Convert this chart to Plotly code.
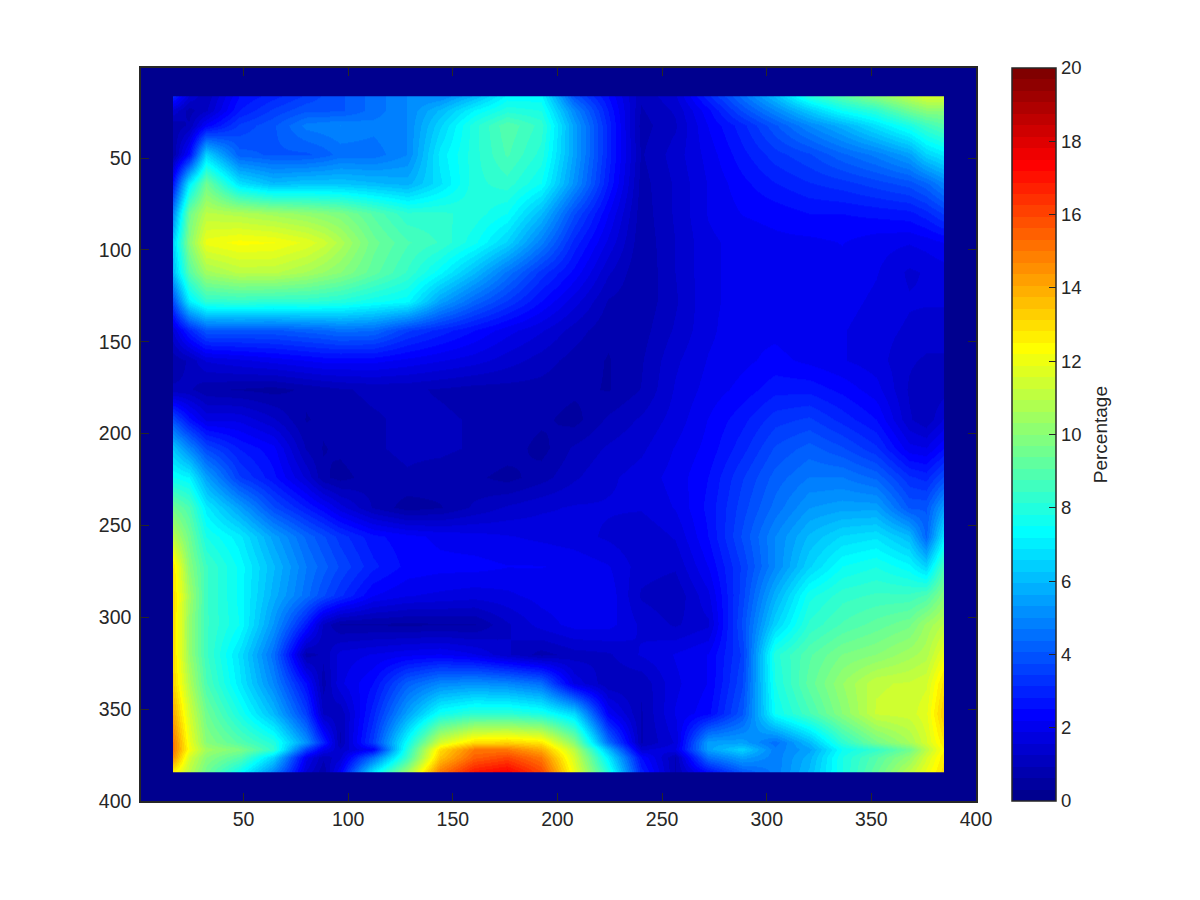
import numpy as np
import plotly.graph_objects as go

x_grid = [16.3,24,32,48,64,80,88,96,112,128,144,160,176,192,208,224,240,256,272,288,304,320,336,352,368,376,384.6]
y_grid = [16.4,24,32,48,64,80,96,112,128,144,160,176,192,208,224,240,256,272,288,304,320,336,352,368,372,376,384.4]

z_rows = [
[3,1.5,1,2.5,3,3.5,3.8,4,4.5,5,5,6,7.3,7.3,4,2.5,1,1.5,3,4.5,6,8,9,10,11,11.5,11.5],
[1.5,.8,1.2,2.8,3.5,4,4,4,4.5,5,6,7.2,8,7.8,5,2.8,.9,1.3,2.4,3.8,5,6.3,7.5,8.2,9.5,10,10],
[.7,1,2.3,3.5,4,4.8,4.9,5,4.8,5,6.5,8,9,8.3,5.5,3,.8,1.2,2.2,3,4,5,5.8,6.8,7.8,8.5,9],
[.7,2.5,6.5,4.2,4,4,4.2,4.5,4.5,5,7,8,8.8,8,5.5,3,.9,1.4,2,2.7,3.3,3.7,4.3,4.8,5.5,6.5,7],
[2.7,7,9.5,6.8,6,6.2,6.2,6.2,6,5.8,6.8,8,8.3,7.5,5.2,2.8,.8,1.3,1.9,2.4,2.8,3.1,3.3,3.6,3.9,4.3,5],
[5,9.5,11,10.8,10.5,10.2,10,9.8,9,8.2,8.2,8,7.5,6,3.8,2.2,.75,1.3,1.9,2.2,2.3,2.5,2.5,2.6,2.7,3,3.5],
[6.5,10,12,12.3,12.2,11.8,11.4,10.8,9.5,8.8,8.4,7.6,6.5,4.8,3,1.8,.7,1.25,1.8,2,2.1,2.1,2.2,2,1.9,2,2.2],
[6,9,10.5,11,11,10.6,10.3,10,9.2,8.4,7.3,6,4.6,3.3,2.4,1.3,.65,1.25,1.8,2,2,2,2.1,1.9,1.5,1.6,1.7],
[3.8,7,8.2,8.3,8.2,8.2,8.1,8,7.6,7.3,5.5,4.3,3.4,2.5,1.7,.9,.7,1.2,1.8,2,2,1.9,2,1.8,1.6,1.6,1.6],
[1.6,3,4,4,4,4.2,4.3,4.5,4.4,3.5,3,2.5,2,1.6,1.1,.7,.8,1.3,1.8,2.1,2.1,1.9,1.9,1.7,1.5,1.4,1.4],
[.7,1,1.6,1.8,2,2.2,2.3,2.3,2.3,2.1,1.9,1.7,1.4,1.1,.8,.6,.9,1.5,1.9,2.1,2.3,2.1,1.9,1.7,1.3,1.2,1.2],
[1,1,.7,.6,.5,.7,.8,.9,1,1,.9,.8,.8,.8,.7,.6,.95,1.6,2,2.3,2.7,2.7,2.4,2,1.2,1,1.1],
[3.8,2.6,1.8,1.8,1.3,.6,.7,.8,.9,1,1,.9,.8,.7,.5,1,1.3,1.7,2.2,2.7,3.3,3.5,3,2.5,1.3,1,1.6],
[6.2,5,3.7,2.8,2.3,.9,.6,.7,.9,1,1,.9,.8,.5,1,1.3,1.5,1.9,2.3,3,3.8,4.2,3.8,3.2,2,1.9,2.5],
[7.5,7.2,5.5,3.5,2.6,1.5,.7,.5,.8,.9,.8,.7,.5,.8,1.2,1.5,1.7,2,2.5,3.4,4.2,4.7,4.7,4.3,3.2,3,3.8],
[9.5,8.8,7,5.5,3.8,2.8,2.3,1.7,.9,.45,.6,1,1.3,1.5,1.6,1.6,1.6,1.9,2.6,3.6,4.5,5.3,5.5,5.5,4,4,5.5],
[11,9.5,7.8,7,5.5,4.3,3.8,3.3,2.6,2.3,2.1,2,1.9,1.8,1.7,1.5,1.3,1.6,2.5,3.8,5,6,6.6,6.8,6,4.3,7],
[12.8,10,8.5,7.4,6,4.7,4.2,3.7,2.9,2.4,2.3,2.3,2.2,2.2,2.1,1.9,1.4,1.3,2.2,3.5,5,6.5,7.5,7.8,7.3,6.5,8.8],
[13,10.5,8.5,7.4,5.8,4.5,3.8,3.2,2.2,1.9,1.8,1.7,1.8,2,2.1,2.1,1.2,1,1.8,3.6,5.8,7.7,8.3,8.5,8.5,8.8,10],
[13,10.2,8.5,7.5,5.3,2.8,1.2,.6,.6,.55,.6,.6,1.2,1.7,2,2,1.5,1.2,1.5,3.8,6.5,8.2,8.8,9.2,9.6,10.4,11],
[13,10.3,8.5,6.8,4.5,.8,1,1.7,1.9,2.1,2.2,1.9,1.3,.8,1.1,1.2,1.6,1.9,2.2,3.5,8,9,9.7,10,10.5,10.8,12],
[13.2,10.8,8.8,7,5,2.5,.8,1.8,2.5,4.2,5,5.2,5,4.5,1.8,1,1,1.8,2.2,3.7,7.8,9.2,10.3,11.2,11.3,11.5,13],
[14,11.5,9.5,7.8,6,3.5,1.2,1,3,5.5,7.6,8.2,8.2,7.8,6.6,2.2,.9,1.9,2.4,4,7.5,8.7,10,11.3,11.4,11.8,13.5],
[15,12,10,9,8,5.2,3,.9,3.5,7.5,11.5,13,13.2,12.8,10,4.5,.9,1.6,5.5,5.5,4.5,6,8.2,9.6,10.6,11.5,12.8],
[15,12.2,10.5,9.8,8.3,3.6,2,1.3,2.3,8,13,15,15,14,11,6,1.5,1.8,5.5,6.5,4.8,5.5,7.5,8.3,9.5,11,12.5],
[14.5,11.5,10,9,6.5,2,1,1.5,4.5,8.5,13.5,15.5,16,15,11.5,7,2.5,.9,4.5,5.5,4.8,5.8,7.8,9,10.2,11.5,12.8],
[12.5,11,9.5,7.5,5,1.5,.7,2.2,7,10.5,15,17,17.5,16,12,8,3,.9,2.5,4,4.8,6,7.8,9.3,11,12,13],
]

x_ticks = [50,100,150,200,250,300,350,400]
y_ticks = [50,100,150,200,250,300,350,400]
cbar_ticks = list(range(0,21,2))
FONT = "Liberation Sans"
INK = "#262626"
PX_LEFT, PX_W = 141.3, 835


def jet64():
    def c(v):
        return int(round(255*min(1,max(0,v))))
    out = []
    for k in range(1,65):
        t = k/64
        out.append(f"rgb({c(1.5-abs(4*t-3))},{c(1.5-abs(4*t-2))},{c(1.5-abs(4*t-1))})")
    return out

cols = jet64()
scale = []
for i,col in enumerate(cols):
    scale.append([i/64,col])
    scale.append([(i+1)/64,col])

# Edge rows/columns doubled so the image stops at the outer grid lines.
z = np.pad(np.array(z_rows,dtype=float),1,mode="edge")
xs = [x_grid[0]-0.01]+x_grid+[x_grid[-1]+0.01]
ys = [y_grid[0]-0.01]+y_grid+[y_grid[-1]+0.01]

fig = go.Figure(go.Heatmap(
    x=xs,y=ys,z=z,zmin=0,zmax=20,zsmooth="best",colorscale=scale,
    hoverinfo="skip",
    colorbar=dict(
        x=(1012.5-PX_LEFT)/PX_W,xanchor="left",xpad=0,y=0,yanchor="bottom",ypad=0,len=1,
        thickness=44,outlinecolor=INK,outlinewidth=1.5,
        tickmode="array",tickvals=cbar_ticks,ticks="inside",ticklen=7,tickwidth=1,tickcolor=INK,
        tickprefix="\u00a0",
        tickfont=dict(family=FONT,size=18.5,color=INK),
    ),
))
axis = dict(
    showgrid=False,zeroline=False,showline=True,linewidth=1.5,linecolor=INK,mirror="allticks",
    ticks="inside",ticklen=8,tickwidth=1,tickcolor=INK,
    tickfont=dict(family=FONT,size=19.5,color=INK),tickmode="array",
)
fig.update_layout(
    width=1184,height=884,autosize=False,
    margin=dict(l=PX_LEFT-8,r=1184+8-PX_LEFT-PX_W,t=59.5,b=90.5),
    paper_bgcolor="white",plot_bgcolor=cols[0],
    xaxis=dict(axis,range=[1,400],tickvals=x_ticks),
    yaxis=dict(axis,range=[400,1],tickvals=y_ticks,ticklabelstandoff=4),
    annotations=[dict(text="Percentage",textangle=-90,xref="paper",yref="paper",
        x=(1101-PX_LEFT)/PX_W,y=0.5,xanchor="center",yanchor="middle",showarrow=False,
        font=dict(family=FONT,size=19,color=INK))],
)
fig.write_html("out.html")
